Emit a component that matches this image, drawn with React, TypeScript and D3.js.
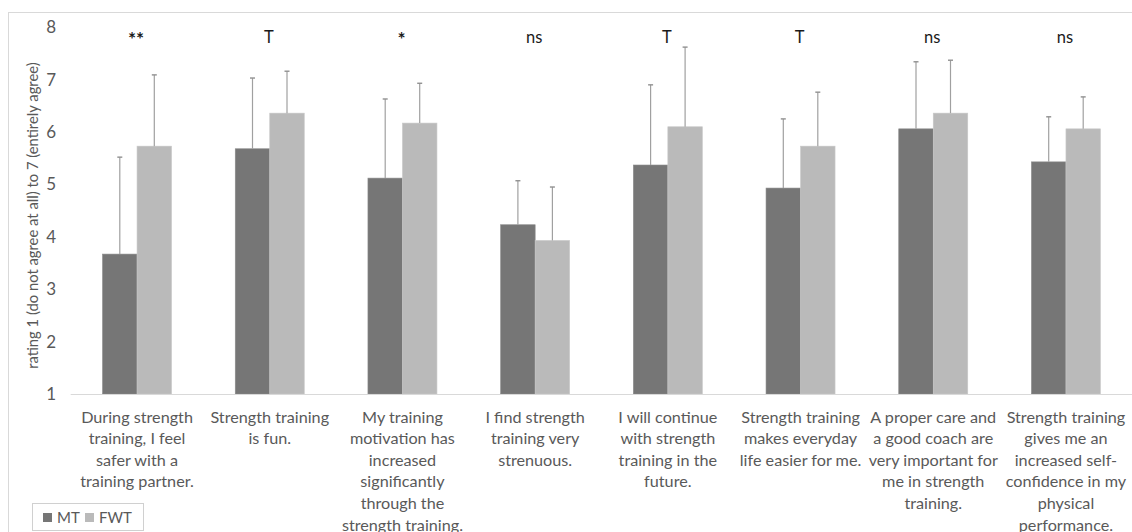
import React from "react";
import * as d3 from "d3";

const categories: string[][] = [
  ["During strength", "training, I feel", "safer with a", "training partner."],
  ["Strength training", "is fun."],
  ["My training", "motivation has", "increased", "significantly", "through the", "strength training."],
  ["I find strength", "training very", "strenuous."],
  ["I will continue", "with strength", "training in the", "future."],
  ["Strength training", "makes everyday", "life easier for me."],
  ["A proper care and", "a good coach  are", "very important for", "me in strength", "training."],
  ["Strength training", "gives me an", "increased self-", "confidence in my", "physical", "performance."],
];
const significance = ["**", "T", "*", "ns", "T", "T", "ns", "ns"];
const mtValues = [3.67, 5.68, 5.12, 4.23, 5.37, 4.93, 6.06, 5.43];
const mtErrTop = [5.52, 7.03, 6.63, 5.07, 6.9, 6.25, 7.34, 6.29];
const fwtValues = [5.73, 6.36, 6.17, 3.93, 6.1, 5.73, 6.36, 6.06];
const fwtErrTop = [7.09, 7.16, 6.93, 4.95, 7.62, 6.76, 7.37, 6.67];
const yTicks = [1, 2, 3, 4, 5, 6, 7, 8];
const seriesNames = ["MT", "FWT"];

const W = 1132;
const H = 532;
const FONT = "Lato, 'Open Sans', sans-serif";
const TXT = "#595959";
const COLORS = ["#767676", "#bababa"];

export default function App() {
  const x = d3
    .scaleBand<number>()
    .domain(d3.range(categories.length))
    .range([70.7, 1132.3])
    .paddingInner(0)
    .paddingOuter(0);
  const y = d3.scaleLinear().domain([1, 8]).range([394, 27.2]);
  const step = x.step();
  const barW = step * 0.26;

  const series = [
    { values: mtValues, err: mtErrTop },
    { values: fwtValues, err: fwtErrTop },
  ];

  return (
    <svg
      width={W}
      height={H}
      style={{ position: "absolute", left: 0, top: 0, background: "#fff" }}
      fontFamily={FONT}
    >
      <rect x={8.5} y={12.5} width={W} height={H} fill="none" stroke="#d9d9d9" />
      {yTicks.map((t) => (
        <text
          key={t}
          x={56}
          y={y(t)}
          dy="0.35em"
          textAnchor="end"
          fontSize={17}
          fill={TXT}
        >
          {t}
        </text>
      ))}
      <text
        transform={`translate(33,${(y(1) + y(8)) / 2 + 5}) rotate(-90)`}
        textAnchor="middle"
        dy="0.35em"
        fontSize={14.8}
        fill={TXT}
      >
        rating 1 (do not agree at all) to 7 (entirely agree)
      </text>
      {categories.map((_, i) => {
        const cx = (x(i) as number) + step / 2;
        return (
          <g key={i}>
            {series.map((s, k) => {
              const bx = cx - barW + k * barW;
              const top = y(s.values[i]);
              const et = y(s.err[i]);
              const mx = bx + barW / 2;
              return (
                <g key={k}>
                  <rect
                    x={bx}
                    y={top}
                    width={barW}
                    height={y(1) - top}
                    fill={COLORS[k]}
                    stroke={k === 0 ? "#8a8a8a" : "#c8c8c8"}
                    strokeWidth={0.6}
                  />
                  <line x1={mx} x2={mx} y1={top} y2={et} stroke="#a0a0a0" strokeWidth={1.2} />
                  <line x1={mx - 2.5} x2={mx + 2.5} y1={et} y2={et} stroke="#909090" strokeWidth={1.4} />
                </g>
              );
            })}
            <text
              x={cx - 1}
              y={significance[i].includes("*") ? 46 : 43}
              textAnchor="middle"
              fontSize={significance[i].includes("*") ? 19 : 16.5}
              fontWeight={significance[i].includes("*") ? 700 : 400}
              fill="#1a1a1a"
            >
              {significance[i]}
            </text>
            {categories[i].map((line, j) => (
              <text
                key={j}
                x={cx}
                y={422.5 + j * 21.6}
                textAnchor="middle"
                fontSize={16.2}
                fill={TXT}
              >
                {line}
              </text>
            ))}
          </g>
        );
      })}
      <line x1={70.7} x2={W} y1={394.5} y2={394.5} stroke="#d9d9d9" strokeWidth={1} />
      <rect x={32.5} y={503.5} width={111} height={27} fill="#fff" stroke="#d0d0d0" />
      {seriesNames.map((n, k) => {
        const lx = k === 0 ? 43 : 85;
        return (
          <g key={n}>
            <rect x={lx} y={513} width={9} height={9} fill={COLORS[k]} />
            <text x={lx + 14} y={518} dy="0.35em" fontSize={15} fill={TXT}>
              {n}
            </text>
          </g>
        );
      })}
    </svg>
  );
}
